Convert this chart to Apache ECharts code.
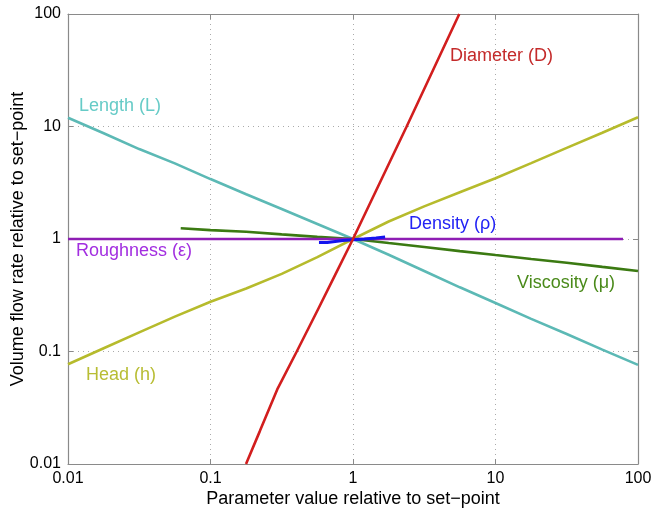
<!DOCTYPE html>
<html>
<head>
<meta charset="utf-8">
<script src="https://cdn.jsdelivr.net/npm/echarts@6/dist/echarts.min.js"></script>
<style>
html,body{margin:0;padding:0;background:#fff;}
#chart{width:652px;height:517px;}
</style>
</head>
<body>
<div id="chart"></div>
<script>
// ---- data ----
var xTicks = [0.01, 0.1, 1, 10, 100];
var yTicks = [0.01, 0.1, 1, 10, 100];

var lengthX = [0.01, 0.0178, 0.0316, 0.0562, 0.1, 0.178, 0.316, 0.562, 1, 1.78, 3.16, 5.62, 10, 17.8, 31.6, 56.2, 100];
var lengthY = [11.97, 8.7, 6.3, 4.7, 3.41, 2.5, 1.85, 1.36, 1, 0.725, 0.52, 0.372, 0.27, 0.195, 0.143, 0.104, 0.076];

var headX = [0.01, 0.0178, 0.0316, 0.0562, 0.1, 0.178, 0.316, 0.562, 1, 1.78, 3.16, 5.62, 10, 17.8, 31.6, 56.2, 100];
var headY = [0.077, 0.107, 0.148, 0.204, 0.277, 0.363, 0.49, 0.69, 1, 1.43, 1.95, 2.6, 3.47, 4.73, 6.46, 8.81, 12.1];

var viscX = [0.0618, 0.1, 0.178, 0.316, 0.562, 1, 1.78, 3.16, 5.62, 10, 17.8, 31.6, 56.2, 100];
var viscY = [1.245, 1.2, 1.16, 1.1, 1.045, 1, 0.92, 0.85, 0.78, 0.72, 0.665, 0.615, 0.565, 0.52];

var diamX = [0.1775, 0.222, 0.294, 0.403, 0.571, 0.748, 1, 2.38, 5.57];
var diamY = [0.01, 0.0196, 0.046, 0.1, 0.24, 0.477, 1, 10, 100];

var densX = [0.577, 0.66, 0.66, 0.85, 0.85, 1.2, 1.2, 1.45, 1.45, 1.68];
var densY = [0.93, 0.93, 0.96, 0.97, 1.0, 1.0, 1.02, 1.02, 1.04, 1.04];

var roughX = [0.01, 78.5];
var roughY = [1, 1];

var labels = ['Diameter (D)', 'Length (L)', 'Density (\u03c1)', 'Roughness (\u03b5)', 'Viscosity (\u03bc)', 'Head (h)'];

function pairs(xs, ys) { return xs.map(function (x, i) { return [x, ys[i]]; }); }

var FONT = "'Liberation Sans', Arial, Helvetica, sans-serif";
var frame = '#8a8a8a';
function fmt(v) { return String(parseFloat(Number(v).toPrecision(2))); }

var chart = echarts.init(document.getElementById('chart'), null, {renderer: 'canvas'});

function baseAxis(extra) {
  var a = {
    type: 'log', logBase: 10, min: 0.01, max: 100,
    axisLine: {show: true, lineStyle: {color: frame, width: 1.2}},
    axisTick: {show: true, inside: true, length: 5, lineStyle: {color: frame}},
    minorTick: {show: false},
    splitLine: {show: false},
    axisLabel: {show: false}
  };
  for (var k in extra) a[k] = extra[k];
  return a;
}

var option = {
  backgroundColor: '#fff',
  animation: false,
  grid: {left: 68, right: 14, top: 14, bottom: 53, containLabel: false, outerBoundsMode: 'none'},
  xAxis: [
    baseAxis({
      position: 'bottom',
      name: 'Parameter value relative to set\u2212point',
      nameLocation: 'middle', nameGap: 26, nameMoveOverlap: false,
      nameTextStyle: {fontFamily: FONT, fontSize: 18, color: '#000'},
      axisLabel: {show: true, margin: 7, fontFamily: FONT, fontSize: 16, color: '#000', formatter: fmt},
      splitLine: {show: true, lineStyle: {type: [1, 4], color: '#aaa', width: 1}}
    }),
    baseAxis({position: 'top'})
  ],
  yAxis: [
    baseAxis({
      position: 'left',
      name: 'Volume flow rate relative to set\u2212point',
      nameLocation: 'middle', nameGap: 41, nameMoveOverlap: false,
      nameTextStyle: {fontFamily: FONT, fontSize: 18, color: '#000'},
      axisLabel: {show: true, margin: 7, fontFamily: FONT, fontSize: 16, color: '#000', formatter: fmt},
      splitLine: {show: true, lineStyle: {type: [1, 4], color: '#aaa', width: 1}}
    }),
    baseAxis({position: 'right'})
  ],
  series: [
    {type: 'line', name: 'Length', data: pairs(lengthX, lengthY), showSymbol: false, lineStyle: {color: '#5cb9b5', width: 2.6}, itemStyle: {color: '#5cb9b5'}, z: 2},
    {type: 'line', name: 'Head', data: pairs(headX, headY), showSymbol: false, lineStyle: {color: '#b6bb2c', width: 2.6}, itemStyle: {color: '#b6bb2c'}, z: 2},
    {type: 'line', name: 'Viscosity', data: pairs(viscX, viscY), showSymbol: false, lineStyle: {color: '#3b7a12', width: 2.6}, itemStyle: {color: '#3b7a12'}, z: 3},
    {type: 'line', name: 'Roughness', data: pairs(roughX, roughY), showSymbol: false, lineStyle: {color: '#8e1db4', width: 2.6}, itemStyle: {color: '#8e1db4'}, z: 3},
    {type: 'line', name: 'Density', data: pairs(densX, densY), showSymbol: false, lineStyle: {color: '#1414ee', width: 3}, itemStyle: {color: '#1414ee'}, z: 4},
    {type: 'line', name: 'Diameter', data: pairs(diamX, diamY), showSymbol: false, lineStyle: {color: '#d21e1e', width: 2.6}, itemStyle: {color: '#d21e1e'}, z: 5}
  ],
  graphic: [
    {type: 'text', left: 450, top: 47, style: {text: labels[0], fill: '#c42a2a', font: '18px ' + FONT}},
    {type: 'text', left: 79, top: 97, style: {text: labels[1], fill: '#66cbc7', font: '18px ' + FONT}},
    {type: 'text', left: 409, top: 215, style: {text: labels[2], fill: '#2222f5', font: '18px ' + FONT}},
    {type: 'text', left: 76, top: 242, style: {text: labels[3], fill: '#a22ee0', font: '18px ' + FONT}},
    {type: 'text', left: 517, top: 274, style: {text: labels[4], fill: '#4a8a1a', font: '18px ' + FONT}},
    {type: 'text', left: 86, top: 366, style: {text: labels[5], fill: '#b8bd34', font: '18px ' + FONT}}
  ]
};
chart.setOption(option);
</script>
</body>
</html>
